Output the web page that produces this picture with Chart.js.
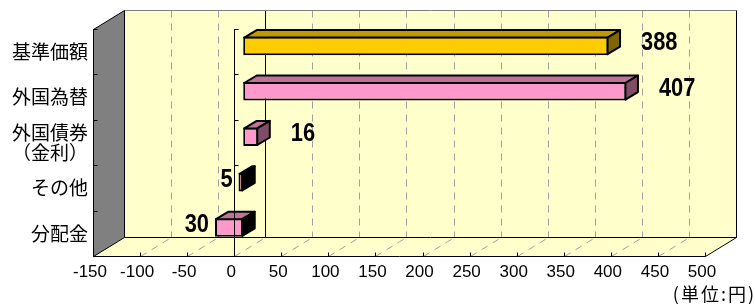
<!DOCTYPE html>
<html>
<head>
<meta charset="utf-8">
<script src="https://cdn.jsdelivr.net/npm/chart.js@4"></script>
<style>
html,body{margin:0;padding:0;background:#fff;}
#wrap{width:755px;height:304px;}
</style>
</head>
<body>
<div id="wrap"><canvas id="myChart" width="755" height="304"></canvas></div>
<script>
var categories=['基準価額','外国為替',['外国債券','（金利）'],'その他','分配金'];
var values=[388,407,16,-5,-30];
var barColors=['#FFCC00','#FF99CC','#FF99CC','#FF99CC','#FF99CC'];
var tickMin=-150;
var tickMax=500;
var tickStep=50;
var unitLabel='(単位:円)';

// depth of the 3d box and of the bars inside it
var WALL_DX=31, WALL_DY=19;
var BAR_DX=9, BAR_DY=5.8;
var DEPTH_X=12.5, DEPTH_Y=7.5;
var NARROW=0.84; // value labels are a condensed bold face

function shade(hex,f) {
    var n=parseInt(hex.slice(1),16);
    var r=Math.round(((n>>16)&255)*f), g=Math.round(((n>>8)&255)*f), b=Math.round((n&255)*f);
    return 'rgb('+r+','+g+','+b+')';
}
function poly(ctx,pts,fill,stroke,lw) {
    ctx.beginPath();
    ctx.moveTo(pts[0][0],pts[0][1]);
    for(let i=1;i<pts.length;i++) ctx.lineTo(pts[i][0],pts[i][1]);
    ctx.closePath();
    if(fill){ctx.fillStyle=fill;ctx.fill();}
    if(stroke){ctx.strokeStyle=stroke;ctx.lineWidth=lw||1;ctx.stroke();}
}
function line(ctx,x1,y1,x2,y2) {
    ctx.beginPath();
    ctx.moveTo(x1,y1);
    ctx.lineTo(x2,y2);
    ctx.stroke();
}

var box3d={
    id:'box3d',
    beforeDraw:function(chart) {
        var ctx=chart.ctx, a=chart.chartArea, xs=chart.scales.x;
        var L=a.left+0.5, R=a.right+0.5, T=a.top+0.5, B=a.bottom+0.5;
        ctx.save();
        // back wall + floor
        ctx.fillStyle='#FFFFCC';
        ctx.fillRect(L+WALL_DX,T-WALL_DY,R-L,B-T);
        poly(ctx,[[L,B],[R,B],[R+WALL_DX,B-WALL_DY],[L+WALL_DX,B-WALL_DY]],'#FFFFCC');
        // dashed grid on wall and floor
        ctx.lineWidth=1;
        ctx.strokeStyle='#A0A0A0';
        ctx.setLineDash([7,6]);
        for(let v=tickMin+tickStep;v<tickMax;v+=tickStep) {
            let px=Math.round(xs.getPixelForValue(v))+0.5;
            if(v!==0) line(ctx,px+WALL_DX,T-WALL_DY,px+WALL_DX,B-WALL_DY);
            line(ctx,px,B,px+WALL_DX,B-WALL_DY);
        }
        ctx.setLineDash([]);
        // zero line on the back wall
        var z=Math.round(xs.getPixelForValue(0))+0.5;
        ctx.strokeStyle='#000';
        line(ctx,z+WALL_DX,T-WALL_DY,z+WALL_DX,B-WALL_DY);
        // edges of box
        ctx.strokeStyle='#808080';
        line(ctx,L+WALL_DX,T-WALL_DY,R+WALL_DX,T-WALL_DY);
        ctx.strokeStyle='#000';
        line(ctx,R+WALL_DX,T-WALL_DY,R+WALL_DX,B-WALL_DY);
        line(ctx,L+WALL_DX,B-WALL_DY,R+WALL_DX,B-WALL_DY);
        line(ctx,R,B,R+WALL_DX,B-WALL_DY);
        line(ctx,L,B,R,B);
        // left gray wall
        poly(ctx,[[L,T],[L+WALL_DX,T-WALL_DY],[L+WALL_DX,B-WALL_DY],[L,B]],'#808080','#000',1);
        // tick marks: floor front edge and left wall edge
        for(let v=tickMin+tickStep;v<=tickMax;v+=tickStep) {
            let px=Math.round(xs.getPixelForValue(v))+0.5;
            line(ctx,px,B-4,px,B);
        }
        var n=categories.length;
        for(let i=0;i<=n;i++) {
            let py=Math.round(a.top+i*(a.bottom-a.top)/n)+0.5;
            line(ctx,L,py,L+4,py);
        }
        ctx.restore();
    },
    beforeDatasetsDraw:function(chart) {
        chart.ctx.save();
        chart.ctx.translate(BAR_DX,-BAR_DY);
    },
    afterDatasetsDraw:function(chart) {
        var ctx=chart.ctx, a=chart.chartArea, xs=chart.scales.x;
        var meta=chart.getDatasetMeta(0);
        ctx.lineJoin='round';
        meta.data.forEach(function(el,i) {
            var p=el.getProps(['x','y','base','height'],true);
            var l=Math.min(p.x,p.base)+1, r=Math.max(p.x,p.base)-1;
            var t=p.y-p.height/2+1, b=p.y+p.height/2-1;
            var c=barColors[i];
            poly(ctx,[[l,t],[l+DEPTH_X,t-DEPTH_Y],[r+DEPTH_X,t-DEPTH_Y],[r,t]],shade(c,0.75),'#000',2);
            var side=values[i]<0?'#000':shade(c,0.5);
            poly(ctx,[[r,t],[r+DEPTH_X,t-DEPTH_Y],[r+DEPTH_X,b-DEPTH_Y],[r,b]],side,'#000',2);
        });
        ctx.restore();

        // category axis at zero, in front of bars
        ctx.save();
        ctx.strokeStyle='#000';
        ctx.lineWidth=1;
        var z=Math.round(xs.getPixelForValue(0))+0.5;
        line(ctx,z,a.top,z,a.bottom);
        var n=categories.length;
        for(let i=0;i<=n;i++) {
            let py=Math.round(a.top+i*(a.bottom-a.top)/n)+0.5;
            line(ctx,z,py,z+4,py);
        }
        // value labels
        ctx.fillStyle='#000';
        ctx.font="bold 26px 'Liberation Sans', Arial, sans-serif";
        ctx.textBaseline='middle';
        meta.data.forEach(function(el,i) {
            var p=el.getProps(['x','y','base'],true);
            var y=p.y-BAR_DY-DEPTH_Y/2+1;
            var lx, txt;
            ctx.save();
            if(values[i]>=0) {
                ctx.textAlign='left';
                lx=p.x+BAR_DX+DEPTH_X+20;
                txt=String(values[i]);
            } else {
                ctx.textAlign='right';
                lx=p.x+BAR_DX-6;
                txt=String(-values[i]);
            }
            ctx.translate(lx,y);
            ctx.scale(NARROW,1);
            ctx.fillText(txt,0,0);
            ctx.restore();
        });
        ctx.restore();
    },
    afterDraw:function(chart) {
        var ctx=chart.ctx;
        ctx.save();
        ctx.fillStyle='#000';
        ctx.font="18px 'Noto Sans CJK JP', sans-serif";
        ctx.letterSpacing='2px';
        ctx.textAlign='right';
        ctx.textBaseline='middle';
        ctx.fillText(unitLabel,756,294);
        ctx.restore();
    }
};

var ctx=document.querySelector('#myChart').getContext('2d');
var myChart=new Chart(ctx,{
    type:'bar',
    data:{
        labels:categories,
        datasets:[{
            data:values,
            backgroundColor:barColors,
            borderColor:'#000',
            borderWidth:2,
            borderSkipped:false,
            barPercentage:0.41,
            categoryPercentage:1
        }]
    },
    options:{
        indexAxis:'y',
        responsive:false,
        animation:false,
        events:[],
        layout:{padding:{left:0,top:29,right:50,bottom:0}},
        plugins:{legend:{display:false},tooltip:{enabled:false}},
        scales:{
            x:{
                min:tickMin,
                max:tickMax,
                grid:{display:false,drawTicks:false},
                border:{display:false},
                ticks:{
                    stepSize:tickStep,
                    color:'#000',
                    padding:6,
                    labelOffset:-3,
                    maxRotation:0,
                    autoSkip:false,
                    font:{family:"'Liberation Sans', Arial, sans-serif",size:17}
                },
                afterFit:function(scale){scale.height=48;}
            },
            y:{
                grid:{display:false,drawTicks:false},
                border:{display:false},
                ticks:{
                    color:'#000',
                    padding:5,
                    font:{family:"'Noto Sans CJK JP', sans-serif",size:19,lineHeight:1.05}
                },
                afterFit:function(scale){scale.width=93;}
            }
        }
    },
    plugins:[box3d]
});
</script>
</body>
</html>
